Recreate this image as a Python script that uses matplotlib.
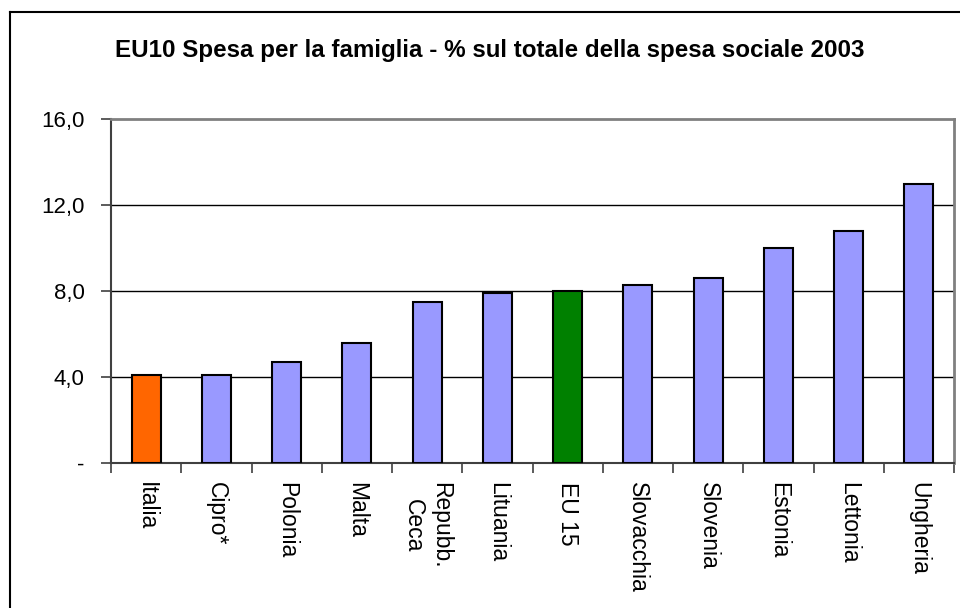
import numpy as np
import matplotlib
matplotlib.use('Agg')
import matplotlib.pyplot as plt
from matplotlib.lines import Line2D

plt.rcParams['font.family'] = ['Liberation Sans', 'DejaVu Sans']

# dati
paesi = ['Italia', 'Cipro*', 'Polonia', 'Malta', 'Repubb.\nCeca', 'Lituania',
         'EU 15', 'Slovacchia', 'Slovenia', 'Estonia', 'Lettonia', 'Ungheria']
valori = [4.1, 4.1, 4.7, 5.6, 7.5, 7.9, 8.0, 8.3, 8.6, 10.0, 10.8, 13.0]
colori = ['#FF6600', '#9999FF', '#9999FF', '#9999FF', '#9999FF', '#9999FF',
          '#008000', '#9999FF', '#9999FF', '#9999FF', '#9999FF', '#9999FF']
y_ticks = [0, 4, 8, 12, 16]
y_labels = ['-', '4,0', '8,0', '12,0', '16,0']

fig = plt.figure(figsize=(9.6, 6.08), dpi=100)
ax = fig.add_axes([111 / 960, 1 - 463 / 608, 843 / 960, 344 / 608])

x = np.arange(len(paesi))
ax.bar(x, valori, width=0.41, color=colori, edgecolor='black', linewidth=1.5, zorder=3)

ax.set_xlim(-0.5, len(paesi) - 0.5)
ax.set_ylim(0, 16)
ax.set_yticks(y_ticks)
ax.set_yticklabels(y_labels, fontsize=16)
ax.set_xticks(np.arange(len(paesi) + 1) - 0.5, minor=False)
ax.set_xticklabels([])
ax.set_xticks(x, minor=True)
ax.set_xticklabels(paesi, minor=True, rotation=270, fontsize=16.5, ha='center', va='top')
ax.tick_params(axis='x', which='minor', length=0, pad=14)
ax.tick_params(axis='x', which='major', length=7, color='#404040', width=1.2)
ax.tick_params(axis='y', length=7, color='#404040', width=1.2, pad=12)

# griglia
for v in y_ticks[1:-1]:
    ax.axhline(v, color='black', linewidth=1, zorder=1)

for s in ['top', 'right']:
    ax.spines[s].set_color('#808080')
    ax.spines[s].set_linewidth(2)
for s in ['left', 'bottom']:
    ax.spines[s].set_color('#404040')
    ax.spines[s].set_linewidth(1.5)

fig.text(490 / 960, 1 - 51 / 608, 'EU10 Spesa per la famiglia - % sul totale della spesa sociale 2003',
         ha='center', va='center', fontsize=17.4, fontweight='bold')

# bordo del grafico
fig.add_artist(Line2D([10 / 960, 1], [1 - 12 / 608, 1 - 12 / 608], color='black', linewidth=1.5))
fig.add_artist(Line2D([10 / 960, 10 / 960], [0, 1 - 12 / 608], color='black', linewidth=1.5))

fig.savefig('out.png', dpi=100)
